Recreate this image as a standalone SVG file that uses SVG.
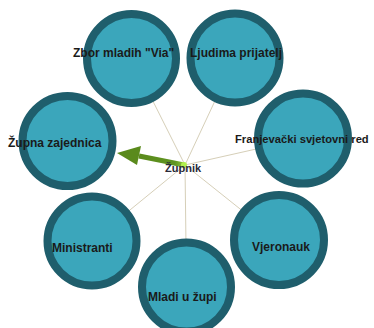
<svg xmlns="http://www.w3.org/2000/svg" width="374" height="328" viewBox="0 0 374 328">
<style>
.node circle{fill:#3ba6bb;stroke:#1f5e6c;stroke-width:8}
.lbl{font-family:"Liberation Sans",Arial,sans-serif;font-weight:bold;font-size:12px;fill:#1a1a1a}
.conn{stroke:#d6cfb8;stroke-width:1;fill:none}
</style>
<defs>
<linearGradient id="shaft" x1="0" y1="0" x2="1" y2="0">
<stop offset="0" stop-color="#5a8a1c"/>
<stop offset="0.8" stop-color="#5f9420"/>
<stop offset="1" stop-color="#8cc83a"/>
</linearGradient>
</defs>
<rect width="374" height="328" fill="#ffffff"/>
<g id="connectors">
<line class="conn" x1="185" y1="165" x2="131.5" y2="58.5"/>
<line class="conn" x1="185" y1="165" x2="235" y2="58"/>
<line class="conn" x1="185" y1="165" x2="303" y2="138.5"/>
<line class="conn" x1="185" y1="165" x2="92" y2="241"/>
<line class="conn" x1="185" y1="165" x2="186.5" y2="287"/>
<line class="conn" x1="185" y1="165" x2="279" y2="240"/>
</g>
<g id="node-zbor" class="node"><circle cx="131.5" cy="58.5" r="44.5"/></g>
<g id="node-ljudima" class="node"><circle cx="235" cy="58" r="44.5"/></g>
<g id="node-franjevacki" class="node"><circle cx="303" cy="138.5" r="45"/></g>
<g id="node-zupna" class="node"><circle cx="67.5" cy="141" r="45"/></g>
<g id="node-ministranti" class="node"><circle cx="92" cy="241" r="44.5"/></g>
<g id="node-mladi" class="node"><circle cx="186.5" cy="287" r="44.5"/></g>
<g id="node-vjeronauk" class="node"><circle cx="279" cy="240" r="45"/></g>
<g id="edge-zupnik-zupna">
<line x1="139" y1="156" x2="184" y2="165" stroke="url(#shaft)" stroke-width="5"/>
<polygon points="117,153 141,146 137,165" fill="#5a8a1c"/>
</g>
<g id="node-zupnik">
<circle cx="184" cy="165" r="3" fill="#b2f04e"/>
<text x="165" y="172" font-family="'Liberation Sans',Arial,sans-serif" font-weight="bold" font-size="11" fill="#2a2a38">Župnik</text>
</g>
<g id="labels">
<text class="lbl" x="235" y="143" style="font-size:11.2px">Franjevački svjetovni red</text>
<text class="lbl" x="73" y="57">Zbor mladih "Via"</text>
<text class="lbl" x="190" y="57">Ljudima prijatelj</text>
<text class="lbl" x="8" y="147">Župna zajednica</text>
<text class="lbl" x="52" y="252">Ministranti</text>
<text class="lbl" x="252" y="251">Vjeronauk</text>
<text class="lbl" x="148" y="301">Mladi u župi</text>
</g>
</svg>
